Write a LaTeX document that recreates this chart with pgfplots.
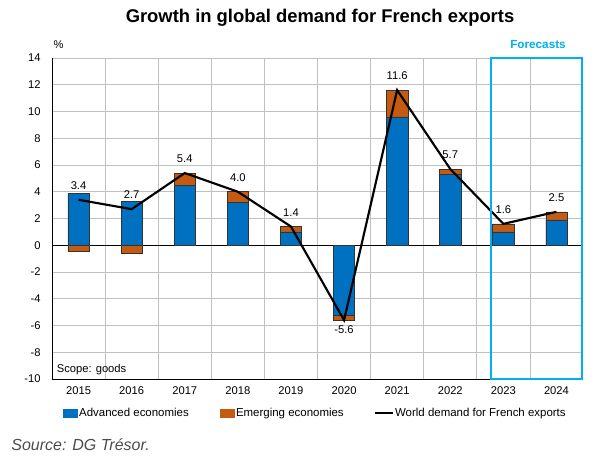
\documentclass[border=0pt]{standalone}
\usepackage{pgfplots}
\pgfplotsset{compat=1.18}
\usepackage{fontspec}
\setmainfont{Liberation Sans}
\definecolor{adv}{HTML}{0070C0}
\definecolor{emg}{HTML}{C55A11}
\definecolor{fc}{HTML}{00B0F0}
\definecolor{gridc}{HTML}{C0C0C0}
\begin{document}
\begin{tikzpicture}
\useasboundingbox (0pt,0pt) rectangle (452.25pt,-348.75pt);
\node[font=\bfseries\fontsize{13.8}{16}\selectfont] at (240pt,-13.5pt) {Growth in global demand for French exports};
\node[font=\fontsize{8.4}{10}\selectfont] at (44pt,-33.75pt) {\%};
\node[font=\bfseries\fontsize{8.8}{10}\selectfont, text=fc] at (403.5pt,-33.75pt) {Forecasts};
\node[anchor=west, font=\itshape\fontsize{12}{14}\selectfont, text=black!70] at (5pt,-333.75pt) {Source: DG Trésor.};
\begin{axis}[
  at={(39pt,-43.5pt)}, anchor=north west,
  scale only axis, width=398.25pt, height=240.75pt,
  xmin=-0.5, xmax=9.5, ymin=-10, ymax=14,
  xtick={0,...,9},
  xticklabels={2015,2016,2017,2018,2019,2020,2021,2022,2023,2024},
  ytick={-10,-8,...,14},
  minor xtick={0.5,1.5,...,8.5},
  xminorgrids, ymajorgrids,
  grid style={gridc, line width=0.5pt},
  minor grid style={gridc, line width=0.5pt},
  axis lines*=left,
  axis line style={black, line width=0.6pt, -},
  major tick length=0pt, minor tick length=0pt,
  tick style={draw=none},
  ticklabel style={font=\fontsize{8.4}{10}\selectfont},
  yticklabel style={xshift=-5pt},
  xticklabel style={yshift=-2pt},
  /pgf/number format/assume math mode=true,
  extra y ticks={0}, extra y tick labels={},
  extra y tick style={grid style={black, line width=0.6pt}},
  clip=false,
  legend columns=3,
  legend style={at={(0.495,-0.106)}, anchor=center, draw=none, fill=none,
    font=\fontsize{8.6}{10}\selectfont,
    nodes={inner sep=1pt},
    /tikz/every even column/.append style={column sep=22pt}},
]
% emerging economies (drawn full extent, advanced drawn over it)
\addplot[ybar, bar width=0.4, bar shift=0pt, fill=emg, draw=black!80, line width=0.4pt, forget plot]
  coordinates {(0,-0.45) (1,-0.6) (2,5.4) (3,4.0) (4,1.4) (5,-5.6) (6,11.6) (7,5.7) (8,1.6) (9,2.5)};
% advanced economies
\addplot[ybar, bar width=0.4, bar shift=0pt, fill=adv, draw=black!80, line width=0.4pt, forget plot]
  coordinates {(0,3.9) (1,3.3) (2,4.5) (3,3.2) (4,1.0) (5,-5.2) (6,9.6) (7,5.3) (8,1.0) (9,1.9)};
% world demand
\addplot[black, line width=1.6pt, mark=none, forget plot,
  nodes near coords, nodes near coords align=vertical,
  every node near coord/.append style={black, font=\fontsize{8.4}{10}\selectfont, inner sep=5pt, yshift=2pt, /pgf/number format/.cd, fixed, fixed zerofill, precision=1}]
  coordinates {(0,3.4) (1,2.7) (2,5.4) (3,4.0) (4,1.4) (5,-5.6) (6,11.6) (7,5.7) (8,1.6) (9,2.5)};
\draw[fc, line width=1.6pt] (axis cs:7.77,-10) rectangle (axis cs:9.48,14);
\node[anchor=west, font=\fontsize{8.4}{10}\selectfont, inner sep=1pt] at (rel axis cs:0.006,0.03) {Scope: goods};
\addlegendimage{legend image code/.code={\fill[adv] (0pt,-3pt) rectangle (11pt,3pt);}}
\addlegendentry{Advanced economies}
\addlegendimage{legend image code/.code={\fill[emg] (0pt,-3pt) rectangle (11pt,3pt);}}
\addlegendentry{Emerging economies}
\addlegendimage{legend image code/.code={\draw[black, line width=1.5pt] (0pt,0pt) -- (13pt,0pt);}}
\addlegendentry{World demand for French exports}
\end{axis}
\end{tikzpicture}
\end{document}
